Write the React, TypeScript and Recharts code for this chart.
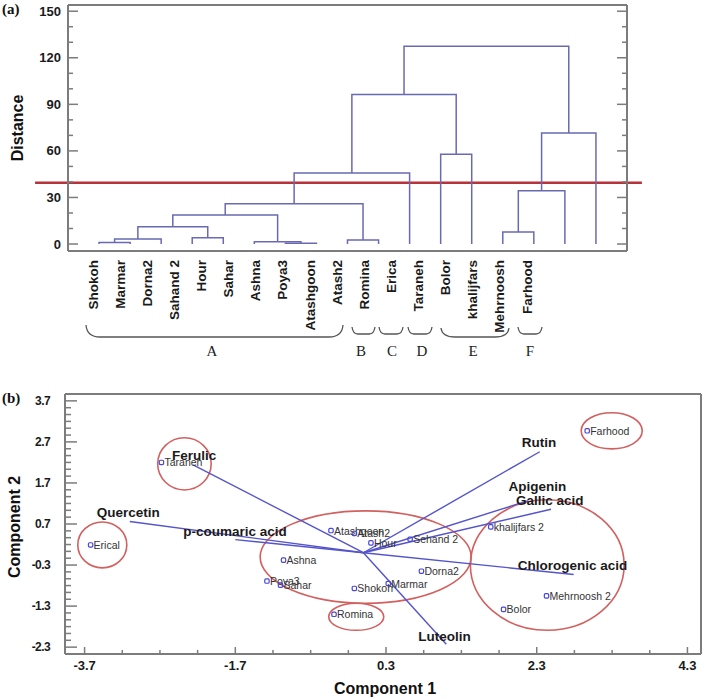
import React from "react"
import { ComposedChart, Scatter, XAxis, YAxis, ReferenceLine, ReferenceArea } from "recharts"

const FONT = "Arial, 'Liberation Sans', Helvetica, sans-serif"
const SERIF = "'Times New Roman', 'Liberation Serif', serif"
const FRAME = "#7c7c7c"
const TREE = "#6a6ab4"
const VEC = "#5454cc"
const RING = "#d2605f"

// ---------- (a) dendrogram ----------
const leafNames = [
  "Shokoh", "Marmar", "Dorna2", "Sahand 2", "Hour", "Sahar", "Ashna", "Poya3", "Atashgoon",
  "Atash2", "Romina", "Erica", "Taraneh", "Bolor", "khalijfars", "Mehrnoosh", "Farhood",
]
// [child a, child b, distance]; child < 17 is a leaf, otherwise merge (child - 17)
const merges: [number, number, number][] = [
  [0, 1, 1.0],
  [17, 2, 3.2],
  [3, 4, 4.0],
  [18, 19, 11.2],
  [6, 7, 0.5],
  [5, 21, 1.5],
  [20, 22, 18.7],
  [8, 9, 2.6],
  [23, 24, 26],
  [25, 10, 45.7],
  [11, 12, 57.8],
  [26, 27, 96.4],
  [13, 14, 7.7],
  [29, 15, 34.3],
  [30, 16, 71.5],
  [28, 31, 127.5],
]
const cutDistance = 39.5
const distTicks = [0, 10, 20, 30, 40, 50, 60, 70, 80, 90, 100, 110, 120, 130, 140, 150]

// ---------- (b) biplot ----------
const cultivars = [
  "Erical", "Taraneh", "Ashna", "Poya3", "Sahar", "Atashgoon", "Atash2", "Hour", "Sehand 2",
  "Dorna2", "Marmar", "Shokoh", "Romina", "khalijfars 2", "Mehrnoosh 2", "Bolor", "Farhood",
]
const comp1 = [-3.62, -2.68, -1.06, -1.28, -1.1, -0.43, -0.12, 0.1, 0.62, 0.77, 0.33, -0.12, -0.39, 1.69, 2.43, 1.86, 2.97]
const comp2 = [0.19, 2.2, -0.18, -0.69, -0.79, 0.54, 0.47, 0.24, 0.33, -0.45, -0.75, -0.87, -1.5, 0.63, -1.05, -1.38, 2.97]

const compounds = ["Ferulic", "Quercetin", "p-coumaric acid", "Rutin", "Apigenin", "Gallic acid", "Chlorogenic acid", "Luteolin"]
const load1 = [-2.26, -3.1, -1.7, 2.34, 2.19, 2.49, 2.79, 1.1]
const load2 = [2.14, 0.76, 0.32, 2.46, 1.27, 1.06, -0.53, -2.23]
const loadLabelShift = [[-21, -9], [-33, -9], [-52, -8], [-18, -9], [-20, -14], [-35, -9], [-56, -9], [-28, -8]]

// group rings as [x1, x2, y1, y2] in component units
const groupRings = [
  [-2.73, -2.02, 2.8, 1.53],
  [-3.79, -3.14, 0.75, -0.37],
  [-1.37, 1.43, 1.02, -1.23],
  [-0.46, 0.27, -1.23, -1.89],
  [1.42, 3.46, 1.29, -1.89],
  [2.89, 3.7, 3.41, 2.53],
]
const comp1Major = [-3.7, -1.7, 0.3, 2.3, 4.3]
const comp2Major = [3.7, 2.7, 1.7, 0.7, -0.3, -1.3, -2.3]
const comp1Ticks = Array.from({ length: 17 }, (_, i) => -3.7 + i * 0.5)
const comp2Ticks = Array.from({ length: 37 }, (_, i) => -2.3 + i / 6)

// dendrogram links
const nodeX: number[] = leafNames.map((_, i) => i + 1)
const nodeH: number[] = leafNames.map(() => 0)
const links = merges.map(([a, b, h]) => {
  const seg = [
    { x: nodeX[a], y: nodeH[a] },
    { x: nodeX[a], y: h },
    { x: nodeX[b], y: h },
    { x: nodeX[b], y: nodeH[b] },
  ]
  nodeX.push((nodeX[a] + nodeX[b]) / 2)
  nodeH.push(h)
  return seg
})
// leaf names sit on their own (narrower) slot axis under the tree
const leafLabelData = leafNames.map((name, i) => ({ x: i, y: 0, name }))

const cultivarData = cultivars.map((name, i) => ({ name, x: comp1[i], y: comp2[i] }))
const loadData = compounds.map((name, i) => [
  { x: 0, y: 0 },
  { x: load1[i], y: load2[i], name, dx: loadLabelShift[i][0], dy: loadLabelShift[i][1] },
])

const near = (v: number, list: number[]) => list.some((m) => Math.abs(m - v) < 1e-6)

function DistTick({ x, y, payload, side }: any) {
  const major = payload.value % 30 === 0
  const len = major ? 10 : 5
  const dir = side === "left" ? 1 : -1
  return (
    <g>
      <line x1={x} x2={x + dir * len} y1={y} y2={y} stroke={FRAME} strokeWidth={1.5} />
      {side === "left" && major && (
        <text x={x - 7} y={y} textAnchor="end" dominantBaseline="central" fontFamily={FONT} fontWeight="bold" fontSize={13} fill="#1a1a1a">
          {payload.value}
        </text>
      )}
    </g>
  )
}

function LeafLabel({ cx, cy, payload }: any) {
  const yy = cy + 16
  return (
    <text x={cx} y={yy} transform={`rotate(-90, ${cx}, ${yy})`} textAnchor="end" dominantBaseline="central" fontFamily={FONT} fontWeight="bold" fontSize={13.5} fill="#1a1a1a">
      {payload.name}
    </text>
  )
}

function C2Tick({ x, y, payload, side }: any) {
  const major = near(Math.round(payload.value * 1000) / 1000, comp2Major)
  const len = side === "left" ? (major ? 12 : 6) : major ? 7 : 4
  const dir = side === "left" ? 1 : -1
  return (
    <g>
      <line x1={x} x2={x + dir * len} y1={y} y2={y} stroke={FRAME} strokeWidth={1.5} />
      {side === "left" && major && (
        <text x={x - 15} y={y} textAnchor="end" dominantBaseline="central" fontFamily={FONT} fontWeight="bold" fontSize={12} letterSpacing={-0.6} fill="#1a1a1a">
          {payload.value.toFixed(1)}
        </text>
      )}
    </g>
  )
}

function C1Tick({ x, y, payload, side }: any) {
  const major = near(Math.round(payload.value * 1000) / 1000, comp1Major)
  const len = major ? 7 : 4
  const dir = side === "bottom" ? -1 : 1
  return (
    <g>
      <line x1={x} x2={x} y1={y} y2={y + dir * len} stroke={FRAME} strokeWidth={1.5} />
      {side === "bottom" && major && (
        <text x={x} y={y + 11} textAnchor="middle" dominantBaseline="central" fontFamily={FONT} fontWeight="bold" fontSize={13} fill="#1a1a1a">
          {payload.value.toFixed(1)}
        </text>
      )}
    </g>
  )
}

function CultivarDot({ cx, cy, payload }: any) {
  return (
    <g>
      <rect x={cx - 2.2} y={cy - 2.2} width={4.4} height={4.4} rx={1.3} fill="none" stroke="#4646dc" strokeWidth={1.2} />
      <text x={cx + 3} y={cy} dominantBaseline="central" fontFamily={FONT} fontSize={10.5} fill="#333">
        {payload.name}
      </text>
    </g>
  )
}

function LoadLabel({ cx, cy, payload }: any) {
  if (!payload.name) return <g />
  return (
    <text x={cx + payload.dx} y={cy + payload.dy} dominantBaseline="central" fontFamily={FONT} fontWeight="bold" fontSize={13.5} fill="#1a1a1a">
      {payload.name}
    </text>
  )
}

function Ring(p: any) {
  const w = Math.abs(p.width)
  const h = Math.abs(p.height)
  const x0 = Math.min(p.x, p.x + p.width)
  const y0 = Math.min(p.y, p.y + p.height)
  return <ellipse cx={x0 + w / 2} cy={y0 + h / 2} rx={w / 2} ry={h / 2} fill="none" stroke={RING} strokeWidth={1.6} />
}

const frameLine = { stroke: FRAME, strokeWidth: 2 }

const braces = [
  { g: "A", x1: 86, x2: 343, top: 325, bot: 337, lx: 212 },
  { g: "B", x1: 352, x2: 375, top: 327, bot: 334, lx: 361 },
  { g: "C", x1: 379, x2: 403, top: 327, bot: 334, lx: 392 },
  { g: "D", x1: 408, x2: 432, top: 327, bot: 334, lx: 422 },
  { g: "E", x1: 441, x2: 509, top: 328, bot: 337, lx: 473 },
  { g: "F", x1: 518, x2: 542, top: 327, bot: 334, lx: 530 },
]

export default function App() {
  return (
    <div style={{ position: "absolute", left: 0, top: 0, width: 708, height: 699, background: "#fff" }}>
      <div style={{ position: "absolute", left: 0, top: 0 }}>
        <ComposedChart width={708} height={381} margin={{ top: 4, right: 80, bottom: 0, left: 67 }}>
          <XAxis xAxisId="leaf" orientation="top" type="number" dataKey="x" domain={[0, 18]} height={1} tick={false} tickLine={false} axisLine={frameLine} />
          <XAxis xAxisId="lbl" orientation="bottom" type="number" dataKey="x" domain={[-0.922, 19.686]} height={130} tick={false} tickLine={false} axisLine={frameLine} />
          <YAxis yAxisId="left" type="number" dataKey="y" domain={[-4.5, 154]} ticks={distTicks} interval={0} width={1} tickSize={0} tickMargin={0} tickLine={false} axisLine={frameLine} tick={(p: any) => <DistTick {...p} side="left" />} />
          <YAxis yAxisId="right" orientation="right" type="number" dataKey="y" domain={[-4.5, 154]} ticks={distTicks} interval={0} width={1} tickSize={0} tickMargin={0} tickLine={false} axisLine={frameLine} tick={(p: any) => <DistTick {...p} side="right" />} />
          {links.map((seg, i) => (
            <Scatter key={i} xAxisId="leaf" yAxisId="left" data={seg} line={{ stroke: TREE, strokeWidth: 1.5 }} shape={() => <g />} isAnimationActive={false} />
          ))}
          <Scatter xAxisId="lbl" yAxisId="right" data={leafLabelData} shape={(p: any) => <LeafLabel {...p} />} isAnimationActive={false} />
          <ReferenceLine
            xAxisId="leaf"
            yAxisId="left"
            ifOverflow="visible"
            segment={[{ x: -1.06, y: cutDistance }, { x: 18.48, y: cutDistance }]}
            stroke="#b8323a"
            strokeWidth={2.5}
          />
        </ComposedChart>
      </div>
      <div style={{ position: "absolute", left: 0, top: 380 }}>
        <ComposedChart width={708} height={319} margin={{ top: 13, right: 6, bottom: 44, left: 64 }}>
          <XAxis xAxisId="bottom" type="number" dataKey="x" domain={[-3.96, 4.48]} ticks={comp1Ticks} interval={0} height={1} tickSize={0} tickMargin={0} tickLine={false} axisLine={frameLine} tick={(p: any) => <C1Tick {...p} side="bottom" />} />
          <XAxis xAxisId="top" orientation="top" type="number" dataKey="x" domain={[-3.96, 4.48]} ticks={comp1Ticks} interval={0} height={1} tickSize={0} tickMargin={0} tickLine={false} axisLine={frameLine} tick={(p: any) => <C1Tick {...p} side="top" />} />
          <YAxis yAxisId="left" type="number" dataKey="y" domain={[-2.467, 3.867]} ticks={comp2Ticks} interval={0} width={1} tickSize={0} tickMargin={0} tickLine={false} axisLine={frameLine} tick={(p: any) => <C2Tick {...p} side="left" />} />
          <YAxis yAxisId="right" orientation="right" type="number" dataKey="y" domain={[-2.467, 3.867]} ticks={comp2Ticks} interval={0} width={1} tickSize={0} tickMargin={0} tickLine={false} axisLine={frameLine} tick={(p: any) => <C2Tick {...p} side="right" />} />
          {groupRings.map((r, i) => (
            <ReferenceArea key={i} xAxisId="bottom" yAxisId="left" x1={r[0]} x2={r[1]} y1={r[2]} y2={r[3]} ifOverflow="visible" shape={(p: any) => <Ring {...p} />} />
          ))}
          {loadData.map((seg, i) => (
            <Scatter key={i} xAxisId="bottom" yAxisId="left" data={seg} line={{ stroke: VEC, strokeWidth: 1.4 }} shape={(p: any) => <LoadLabel {...p} />} isAnimationActive={false} />
          ))}
          <Scatter xAxisId="bottom" yAxisId="left" data={cultivarData} shape={(p: any) => <CultivarDot {...p} />} isAnimationActive={false} />
          <Scatter xAxisId="top" yAxisId="right" data={[]} isAnimationActive={false} />
        </ComposedChart>
      </div>
      <svg width={708} height={699} style={{ position: "absolute", left: 0, top: 0, pointerEvents: "none" }}>
        <text x={2} y={14} fontFamily={SERIF} fontWeight="bold" fontSize={15} fill="#111">(a)</text>
        <text x={2} y={403} fontFamily={SERIF} fontWeight="bold" fontSize={15} fill="#111">(b)</text>
        <text x={17} y={128} transform="rotate(-90, 17, 128)" textAnchor="middle" dominantBaseline="central" fontFamily={FONT} fontWeight="bold" fontSize={16} fill="#111">Distance</text>
        <text x={14} y={527} transform="rotate(-90, 14, 527)" textAnchor="middle" dominantBaseline="central" fontFamily={FONT} fontWeight="bold" fontSize={16} fill="#111">Component 2</text>
        <text x={385} y={688} textAnchor="middle" dominantBaseline="central" fontFamily={FONT} fontWeight="bold" fontSize={16} fill="#111">Component 1</text>
        {braces.map((b) => (
          <g key={b.g}>
            <path
              d={`M${b.x1},${b.top} Q${b.x1 + 1},${b.bot} ${b.x1 + Math.min(14, (b.x2 - b.x1) / 4)},${b.bot} L${b.x2 - Math.min(14, (b.x2 - b.x1) / 4)},${b.bot} Q${b.x2 - 1},${b.bot} ${b.x2},${b.top}`}
              fill="none"
              stroke="#555"
              strokeWidth={1.3}
            />
            <text x={b.lx} y={356} textAnchor="middle" fontFamily={SERIF} fontSize={15} fill="#222">{b.g}</text>
          </g>
        ))}
      </svg>
    </div>
  )
}
